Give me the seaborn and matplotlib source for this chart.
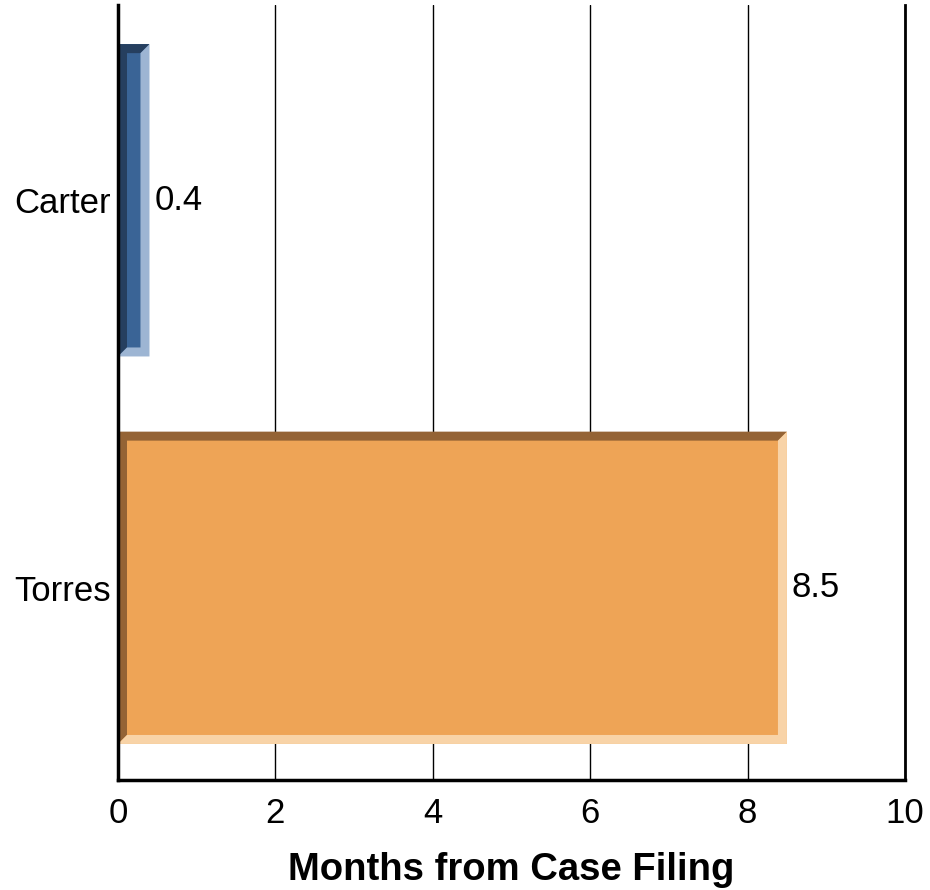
import matplotlib
matplotlib.use("Agg")
import matplotlib.pyplot as plt
import seaborn as sns
import pandas as pd
from matplotlib.patches import Polygon

names = ["Carter", "Torres"]
months = [0.4, 8.5]
face_cols = ["#3A6496", "#EEA456"]
dark_cols = ["#263F5F", "#946335"]
light_cols = ["#9DB5D3", "#F8D3A7"]

df = pd.DataFrame({"name": names, "months": months})

sns.set_style("white")
plt.rcParams["font.family"] = ["Liberation Sans", "DejaVu Sans"]
plt.rcParams["text.color"] = "black"
plt.rcParams["xtick.color"] = "black"
plt.rcParams["ytick.color"] = "black"
plt.rcParams["axes.labelcolor"] = "black"

fig = plt.figure(figsize=(9.3, 8.9), dpi=100)
ax = fig.add_axes([118/930, 1-780/890, (905-118)/930, 775/890])

sns.barplot(data=df, x="months", y="name", hue="name", palette=face_cols,
            saturation=1, width=0.806, legend=False, ax=ax, zorder=3, linewidth=0)

ax.set_xlim(0, 10)
ax.set_ylim(1.496, -0.504)

# bevel width in data units (~9 px)
bx = 9 / 78.7
by = 9 / 387.5
for bar, dc, lc in zip(ax.patches, dark_cols, light_cols):
    x0, x1 = bar.get_x(), bar.get_x() + bar.get_width()
    yt, yb = bar.get_y(), bar.get_y() + bar.get_height()
    dark = [(x0, yb), (x0, yt), (x1, yt), (x1 - bx, yt + by),
            (x0 + bx, yt + by), (x0 + bx, yb - by)]
    light = [(x1, yt), (x1, yb), (x0, yb), (x0 + bx, yb - by),
             (x1 - bx, yb - by), (x1 - bx, yt + by)]
    ax.add_patch(Polygon(dark, closed=True, facecolor=dc, edgecolor="none", zorder=4))
    ax.add_patch(Polygon(light, closed=True, facecolor=lc, edgecolor="none", zorder=4))
    ax.text(x1 + 0.06, (yt + yb) / 2, f"{bar.get_width():.1f}", va="center",
            ha="left", fontsize=25, color="black", zorder=5)

ax.set_xticks([0, 2, 4, 6, 8, 10])
ax.grid(axis="x", color="black", linewidth=1, zorder=0)
ax.grid(axis="y", visible=False)
ax.tick_params(axis="both", length=0, labelsize=25, pad=12)
ax.tick_params(axis="y", pad=5)
ax.set_ylabel("")
ax.set_xlabel("Months from Case Filing", fontsize=27.5, fontweight="bold", labelpad=16)

ax.spines["top"].set_visible(False)
ax.spines["left"].set_linewidth(2.5)
ax.spines["bottom"].set_linewidth(2.5)
ax.spines["right"].set_linewidth(2)
for s in ["left", "bottom", "right"]:
    ax.spines[s].set_color("black")
    ax.spines[s].set_zorder(6)

fig.savefig("out.png", dpi=100)
